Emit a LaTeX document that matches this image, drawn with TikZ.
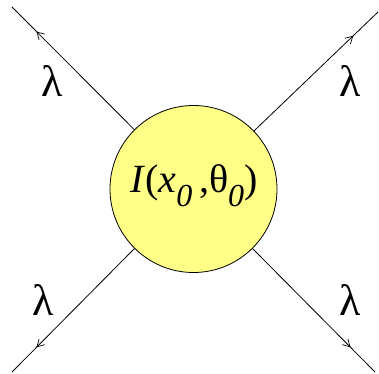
\documentclass[tikz,border=0pt]{standalone}
\usepackage{fontspec}
\setmainfont{Liberation Serif}
\usetikzlibrary{decorations.markings,arrows.meta}
\definecolor{blobfill}{RGB}{255,255,136}
\tikzset{
  leg/.style={line width=0.8pt,
    postaction={decorate},
    decoration={markings, mark=at position 0.8 with {\arrow{Straight Barb[length=7pt,width=8pt,line width=0.7pt]}}}},
  lab/.style={font=\fontsize{44}{48}\selectfont, inner sep=0pt}
}
\begin{document}
\begin{tikzpicture}[x=1pt,y=1pt]
\useasboundingbox (0,0) rectangle (379,373);
\node[circle, draw, line width=0.8pt, fill=blobfill, minimum size=167pt, inner sep=0pt] (c) at (193.5,184) {};
\node[inner sep=0pt, font=\fontsize{40}{44}\selectfont] (t) at (194,187) {\textit{I}(\textit{x}\raisebox{-0.35em}{\fontsize{32}{34}\selectfont\textit{0}}\,,θ\raisebox{-0.35em}{\fontsize{32}{34}\selectfont\textit{0}})};
\coordinate (tl) at (12,366);
\coordinate (tr) at (378,361);
\coordinate (bl) at (12,1);
\coordinate (br) at (375,1);
\draw[leg] (c) -- (tl);
\draw[leg] (c) -- (tr);
\draw[leg] (c) -- (bl);
\draw[leg] (c) -- (br);
\node[lab] (l1) at (52,292) {λ};
\node[lab] (l2) at (350,292) {λ};
\node[lab] (l3) at (43,73) {λ};
\node[lab] (l4) at (350,73) {λ};
\end{tikzpicture}
\end{document}
